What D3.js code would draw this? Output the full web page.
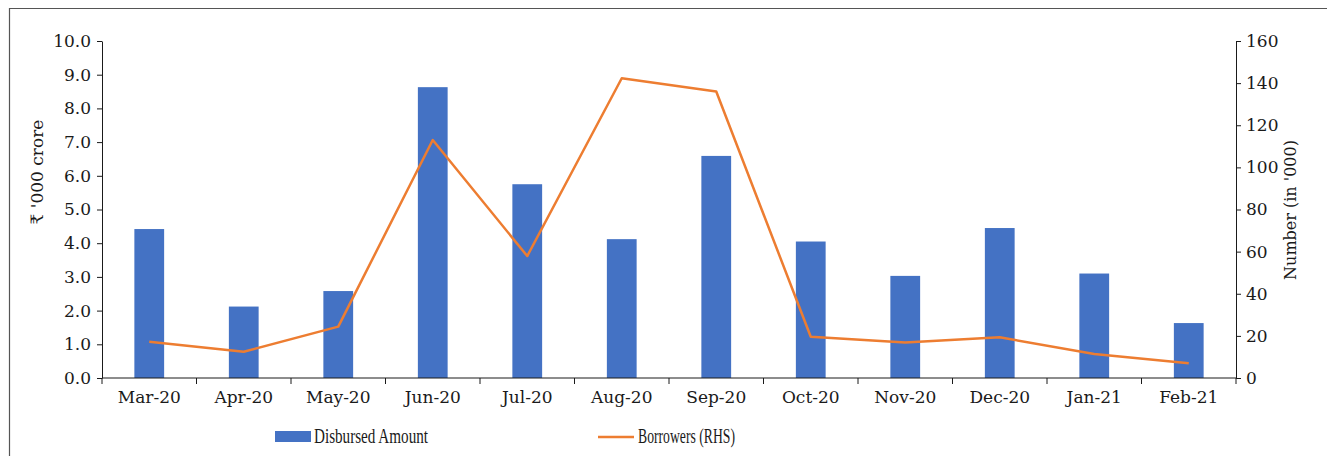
<!DOCTYPE html>
<html>
<head>
<meta charset="utf-8">
<title>Disbursed Amount and Borrowers</title>
<script src="https://d3js.org/d3.v7.min.js"></script>
<style>
  body { margin: 0; background: #fff; }
  svg text { font-family: "DejaVu Serif", serif; fill: #1a1a1a; }
  .axis path, .axis line { stroke: #1a1a1a; }
</style>
</head>
<body>
<svg width="1327" height="456"></svg>
<script>
const months = ["Mar-20", "Apr-20", "May-20", "Jun-20", "Jul-20", "Aug-20",
                "Sep-20", "Oct-20", "Nov-20", "Dec-20", "Jan-21", "Feb-21"];
const disbursed = [4.42, 2.12, 2.58, 8.63, 5.75, 4.12, 6.59, 4.05, 3.03, 4.45, 3.10, 1.63];
const borrowers = [17.2, 12.5, 24.4, 113, 57.9, 142.3, 136, 19.6, 16.9, 19.3, 11.4, 7.0];
const leftTicks = [0, 1, 2, 3, 4, 5, 6, 7, 8, 9, 10];
const rightTicks = [0, 20, 40, 60, 80, 100, 120, 140, 160];

const svg = d3.select("svg");
const plotL = 102, plotR = 1236, plotT = 41, plotB = 378;

// frame
svg.append("path")
  .attr("d", "M9.5,456V8.5H1327")
  .attr("fill", "none")
  .attr("stroke", "#555")
  .attr("stroke-width", 1.2);

const x = d3.scaleBand().domain(months).range([plotL, plotR]).paddingInner(0.685).paddingOuter(0.3425);
const xPos = d3.scaleBand().domain(months).range([plotL, plotR]);
const yL = d3.scaleLinear().domain([0, 10]).range([plotB, plotT]);
const yR = d3.scaleLinear().domain([0, 160]).range([plotB, plotT]);

// bars
svg.append("g").selectAll("rect")
  .data(months)
  .enter()
  .append("rect")
  .attr("x", d => x(d))
  .attr("width", x.bandwidth())
  .attr("y", (d, i) => yL(disbursed[i]))
  .attr("height", (d, i) => yL(0) - yL(disbursed[i]))
  .attr("fill", "#4472c4");

// line
const line = d3.line()
  .x((d, i) => xPos(months[i]) + xPos.bandwidth() / 2)
  .y(d => yR(d));
svg.append("path")
  .attr("d", line(borrowers))
  .attr("fill", "none")
  .attr("stroke", "#ed7d31")
  .attr("stroke-width", 2.5)
  .attr("stroke-linejoin", "round");

// left axis
const gL = svg.append("g").attr("class", "axis")
  .attr("transform", `translate(${plotL},0)`)
  .call(d3.axisLeft(yL).tickValues(leftTicks).tickFormat(d3.format(".1f")).tickSize(5).tickSizeOuter(0).tickPadding(6));
gL.selectAll("text").style("font-size", "17px");

// right axis
const gR = svg.append("g").attr("class", "axis")
  .attr("transform", `translate(${plotR},0)`)
  .call(d3.axisRight(yR).tickValues(rightTicks).tickSize(5).tickSizeOuter(0).tickPadding(5));
gR.selectAll("text").style("font-size", "17px");

// x axis with boundary ticks
const gX = svg.append("g").attr("class", "axis")
  .attr("transform", `translate(0,${plotB})`)
  .call(d3.axisBottom(xPos).tickSize(0).tickPadding(13));
gX.select(".domain").attr("d", `M${plotL},0H${plotR}`);
gX.selectAll("text").style("font-size", "17px");
gX.selectAll(".bnd")
  .data(d3.range(months.length + 1))
  .enter()
  .append("line")
  .attr("x1", i => plotL + i * xPos.step())
  .attr("x2", i => plotL + i * xPos.step())
  .attr("y1", 0)
  .attr("y2", 6)
  .attr("stroke", "#1a1a1a");

// axis titles
svg.append("text")
  .attr("transform", "translate(43,172) rotate(-90)")
  .attr("text-anchor", "middle")
  .style("font-size", "17px")
  .text("₹ '000 crore");
svg.append("text")
  .attr("transform", "translate(1296,210) rotate(-90)")
  .attr("text-anchor", "middle")
  .style("font-size", "16px")
  .text("Number (in '000)");

// legend
const lg = svg.append("g");
lg.append("rect")
  .attr("x", 275).attr("y", 431).attr("width", 36).attr("height", 11)
  .attr("fill", "#4472c4");
lg.append("text")
  .attr("x", 314).attr("y", 443)
  .style("font-family", "'Liberation Serif', serif")
  .style("font-size", "20px")
  .attr("textLength", 114)
  .attr("lengthAdjust", "spacingAndGlyphs")
  .text("Disbursed Amount");
lg.append("line")
  .attr("x1", 598).attr("x2", 634).attr("y1", 437).attr("y2", 437)
  .attr("stroke", "#ed7d31").attr("stroke-width", 2.5);
lg.append("text")
  .attr("x", 638).attr("y", 443)
  .style("font-family", "'Liberation Serif', serif")
  .style("font-size", "20px")
  .attr("textLength", 97)
  .attr("lengthAdjust", "spacingAndGlyphs")
  .text("Borrowers (RHS)");
</script>
</body>
</html>
